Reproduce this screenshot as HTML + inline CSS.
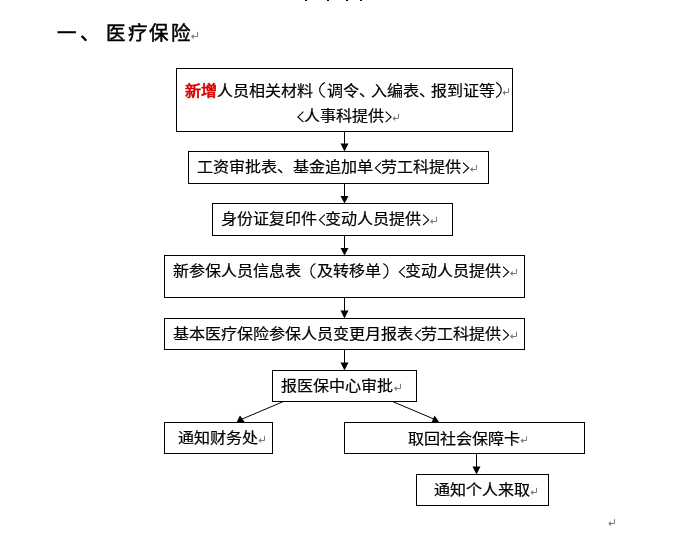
<!DOCTYPE html>
<html lang="zh-CN">
<head>
<meta charset="utf-8">
<style>
html,body{margin:0;padding:0;background:#fff;}
body{width:694px;height:549px;position:relative;overflow:hidden;font-family:"Liberation Sans",sans-serif;color:#000;}
.b{position:absolute;box-sizing:border-box;border:1px solid #000;}
.c{position:absolute;white-space:nowrap;font-size:15px;line-height:15px;transform:scaleX(1.07);transform-origin:7.5px 0;-webkit-text-stroke:0.2px #000;}
svg{position:absolute;left:0;top:0;}
.L{position:absolute;left:0;top:0;width:694px;height:549px;will-change:transform;}
</style>
</head>
<body>
<div class="b" style="left:176px;top:68px;width:337px;height:64px"></div>
<div class="b" style="left:188px;top:151px;width:301px;height:33px"></div>
<div class="b" style="left:212px;top:203px;width:241px;height:33px"></div>
<div class="b" style="left:164px;top:255px;width:361px;height:43px"></div>
<div class="b" style="left:164px;top:318px;width:361px;height:32px"></div>
<div class="b" style="left:272px;top:370px;width:145px;height:32px"></div>
<div class="b" style="left:164px;top:422px;width:109px;height:32px"></div>
<div class="b" style="left:344px;top:422px;width:241px;height:32px"></div>
<div class="b" style="left:416px;top:474px;width:133px;height:32px"></div>
<svg width="694" height="549" viewBox="0 0 694 549">
<g fill="#000">
<rect x="305" y="0" width="2" height="1"/><rect x="327" y="0" width="2" height="1"/><rect x="346" y="0" width="2" height="1"/><rect x="360" y="0" width="2" height="1"/>
</g>
<g stroke="#000" stroke-width="1" fill="none">
<line x1="344.5" y1="132" x2="344.5" y2="145"/>
<line x1="344.5" y1="184" x2="344.5" y2="197"/>
<line x1="344.5" y1="236" x2="344.5" y2="249"/>
<line x1="344.5" y1="298" x2="344.5" y2="312"/>
<line x1="344.5" y1="350" x2="344.5" y2="364"/>
<line x1="476.5" y1="454" x2="476.5" y2="468"/>
<line x1="283.5" y1="401.5" x2="241" y2="419.5"/>
<line x1="392.5" y1="401.5" x2="435" y2="419.5"/>
</g>
<g fill="#000">
<polygon points="340.5,143.5 348.5,143.5 344.5,151.5"/>
<polygon points="340.5,196 348.5,196 344.5,203.5"/>
<polygon points="340.5,248 348.5,248 344.5,255.5"/>
<polygon points="340.5,310.5 348.5,310.5 344.5,318.5"/>
<polygon points="340.5,362.5 348.5,362.5 344.5,370.5"/>
<polygon points="472.5,466.5 480.5,466.5 476.5,474.5"/>
<polygon points="236.5,422.5 240,415.5 245,422.5"/>
<polygon points="431.5,422.5 434.5,415.5 439.5,422.5"/>
</g>
<path d="M324.9 82.6C321.9 84.2 319.7 86.5 319.7 90C319.7 93.5 321.9 95.8 324.9 97.4 M496 82.6C499 84.2 501.2 86.5 501.2 90C501.2 93.5 499 95.8 496 97.4 M303.40 111.60L297.90 116.90L303.40 122.20 M385.60 111.60L391.10 116.90L385.60 122.20 M380.90 162.60L375.40 167.90L380.90 173.20 M463.10 162.60L468.60 167.90L463.10 173.20 M324.90 214.60L319.40 219.90L324.90 225.20 M423.10 214.60L428.60 219.90L423.10 225.20 M315.40 263.60C312.40 265.20 310.90 267.50 310.90 271.00C310.90 274.50 312.40 276.90 315.40 278.50 M383.30 263.60C386.30 265.20 387.90 267.50 387.90 271.00C387.90 274.50 386.30 276.90 383.30 278.50 M404.90 266.60L399.40 271.90L404.90 277.20 M503.10 266.60L508.60 271.90L503.10 277.20 M420.90 329.60L415.40 334.90L420.90 340.20 M503.10 329.60L508.60 334.90L503.10 340.20" fill="none" stroke="#000" stroke-width="1.15"/>
<path d="M508.50 88.30V92.50H504.00" fill="none" stroke="#7c7c7c" stroke-width="1"/><polygon points="502.50,92.50 505.10,90.40 505.10,95.40" fill="#7c7c7c"/><path d="M398.50 113.80V118.50H394.00" fill="none" stroke="#7c7c7c" stroke-width="1"/><polygon points="392.50,118.50 395.10,115.90 395.10,120.90" fill="#7c7c7c"/><path d="M476.50 164.80V169.50H471.50" fill="none" stroke="#7c7c7c" stroke-width="1"/><polygon points="470.00,169.50 472.60,166.90 472.60,171.90" fill="#7c7c7c"/><path d="M436.50 216.80V221.50H431.50" fill="none" stroke="#7c7c7c" stroke-width="1"/><polygon points="430.00,221.50 432.60,218.90 432.60,223.90" fill="#7c7c7c"/><path d="M516.50 268.80V273.50H511.50" fill="none" stroke="#7c7c7c" stroke-width="1"/><polygon points="510.00,273.50 512.60,270.90 512.60,275.90" fill="#7c7c7c"/><path d="M516.50 331.80V336.50H511.50" fill="none" stroke="#7c7c7c" stroke-width="1"/><polygon points="510.00,336.50 512.60,333.90 512.60,338.90" fill="#7c7c7c"/><path d="M400.50 383.80V388.50H395.50" fill="none" stroke="#7c7c7c" stroke-width="1"/><polygon points="394.00,388.50 396.60,385.90 396.60,390.90" fill="#7c7c7c"/><path d="M264.50 435.80V440.50H260.00" fill="none" stroke="#7c7c7c" stroke-width="1"/><polygon points="258.50,440.50 261.10,437.90 261.10,442.90" fill="#7c7c7c"/><path d="M526.50 436.30V440.50H522.00" fill="none" stroke="#7c7c7c" stroke-width="1"/><polygon points="520.50,440.50 523.10,438.40 523.10,443.40" fill="#7c7c7c"/><path d="M536.50 487.80V492.50H532.00" fill="none" stroke="#7c7c7c" stroke-width="1"/><polygon points="530.50,492.50 533.10,489.90 533.10,494.90" fill="#7c7c7c"/><path d="M197.50 31.80V36.50H192.50" fill="none" stroke="#7c7c7c" stroke-width="1"/><polygon points="191.00,36.50 193.60,33.90 193.60,38.90" fill="#7c7c7c"/><path d="M614.50 519.10V523.50H609.80" fill="none" stroke="#7c7c7c" stroke-width="1"/><polygon points="608.30,523.50 610.90,521.20 610.90,526.20" fill="#7c7c7c"/>
</svg>
<div class="L">
<span class="c" style="left:186.0px;top:82.5px;color:#dd0000;-webkit-text-stroke:0.7px #dd0000;">新</span>
<span class="c" style="left:202.0px;top:82.5px;color:#dd0000;-webkit-text-stroke:0.7px #dd0000;">增</span>
<span class="c" style="left:218.0px;top:82.5px;">人</span>
<span class="c" style="left:234.0px;top:82.5px;">员</span>
<span class="c" style="left:250.0px;top:82.5px;">相</span>
<span class="c" style="left:266.0px;top:82.5px;">关</span>
<span class="c" style="left:282.0px;top:82.5px;">材</span>
<span class="c" style="left:298.0px;top:82.5px;">料</span>
<span class="c" style="left:328.0px;top:82.5px;">调</span>
<span class="c" style="left:344.0px;top:82.5px;">令</span>
<span class="c" style="left:360.0px;top:82.5px;">、</span>
<span class="c" style="left:372.0px;top:82.5px;">入</span>
<span class="c" style="left:388.0px;top:82.5px;">编</span>
<span class="c" style="left:404.0px;top:82.5px;">表</span>
<span class="c" style="left:420.0px;top:82.5px;">、</span>
<span class="c" style="left:432.0px;top:82.5px;">报</span>
<span class="c" style="left:448.0px;top:82.5px;">到</span>
<span class="c" style="left:464.0px;top:82.5px;">证</span>
<span class="c" style="left:480.0px;top:82.5px;">等</span>
<span class="c" style="left:304.5px;top:108px;">人</span>
<span class="c" style="left:320.5px;top:108px;">事</span>
<span class="c" style="left:336.5px;top:108px;">科</span>
<span class="c" style="left:352.5px;top:108px;">提</span>
<span class="c" style="left:368.5px;top:108px;">供</span>
<span class="c" style="left:198.0px;top:159px;">工</span>
<span class="c" style="left:214.0px;top:159px;">资</span>
<span class="c" style="left:230.0px;top:159px;">审</span>
<span class="c" style="left:246.0px;top:159px;">批</span>
<span class="c" style="left:262.0px;top:159px;">表</span>
<span class="c" style="left:278.0px;top:159px;">、</span>
<span class="c" style="left:294.0px;top:159px;">基</span>
<span class="c" style="left:310.0px;top:159px;">金</span>
<span class="c" style="left:326.0px;top:159px;">追</span>
<span class="c" style="left:342.0px;top:159px;">加</span>
<span class="c" style="left:358.0px;top:159px;">单</span>
<span class="c" style="left:382.0px;top:159px;">劳</span>
<span class="c" style="left:398.0px;top:159px;">工</span>
<span class="c" style="left:414.0px;top:159px;">科</span>
<span class="c" style="left:430.0px;top:159px;">提</span>
<span class="c" style="left:446.0px;top:159px;">供</span>
<span class="c" style="left:222.0px;top:211px;">身</span>
<span class="c" style="left:238.0px;top:211px;">份</span>
<span class="c" style="left:254.0px;top:211px;">证</span>
<span class="c" style="left:270.0px;top:211px;">复</span>
<span class="c" style="left:286.0px;top:211px;">印</span>
<span class="c" style="left:302.0px;top:211px;">件</span>
<span class="c" style="left:326.0px;top:211px;">变</span>
<span class="c" style="left:342.0px;top:211px;">动</span>
<span class="c" style="left:358.0px;top:211px;">人</span>
<span class="c" style="left:374.0px;top:211px;">员</span>
<span class="c" style="left:390.0px;top:211px;">提</span>
<span class="c" style="left:406.0px;top:211px;">供</span>
<span class="c" style="left:174.0px;top:263px;">新</span>
<span class="c" style="left:190.0px;top:263px;">参</span>
<span class="c" style="left:206.0px;top:263px;">保</span>
<span class="c" style="left:222.0px;top:263px;">人</span>
<span class="c" style="left:238.0px;top:263px;">员</span>
<span class="c" style="left:254.0px;top:263px;">信</span>
<span class="c" style="left:270.0px;top:263px;">息</span>
<span class="c" style="left:286.0px;top:263px;">表</span>
<span class="c" style="left:318.0px;top:263px;">及</span>
<span class="c" style="left:334.0px;top:263px;">转</span>
<span class="c" style="left:350.0px;top:263px;">移</span>
<span class="c" style="left:366.0px;top:263px;">单</span>
<span class="c" style="left:406.0px;top:263px;">变</span>
<span class="c" style="left:422.0px;top:263px;">动</span>
<span class="c" style="left:438.0px;top:263px;">人</span>
<span class="c" style="left:454.0px;top:263px;">员</span>
<span class="c" style="left:470.0px;top:263px;">提</span>
<span class="c" style="left:486.0px;top:263px;">供</span>
<span class="c" style="left:174.0px;top:326px;">基</span>
<span class="c" style="left:190.0px;top:326px;">本</span>
<span class="c" style="left:206.0px;top:326px;">医</span>
<span class="c" style="left:222.0px;top:326px;">疗</span>
<span class="c" style="left:238.0px;top:326px;">保</span>
<span class="c" style="left:254.0px;top:326px;">险</span>
<span class="c" style="left:270.0px;top:326px;">参</span>
<span class="c" style="left:286.0px;top:326px;">保</span>
<span class="c" style="left:302.0px;top:326px;">人</span>
<span class="c" style="left:318.0px;top:326px;">员</span>
<span class="c" style="left:334.0px;top:326px;">变</span>
<span class="c" style="left:350.0px;top:326px;">更</span>
<span class="c" style="left:366.0px;top:326px;">月</span>
<span class="c" style="left:382.0px;top:326px;">报</span>
<span class="c" style="left:398.0px;top:326px;">表</span>
<span class="c" style="left:422.0px;top:326px;">劳</span>
<span class="c" style="left:438.0px;top:326px;">工</span>
<span class="c" style="left:454.0px;top:326px;">科</span>
<span class="c" style="left:470.0px;top:326px;">提</span>
<span class="c" style="left:486.0px;top:326px;">供</span>
<span class="c" style="left:282.0px;top:378px;">报</span>
<span class="c" style="left:298.0px;top:378px;">医</span>
<span class="c" style="left:314.0px;top:378px;">保</span>
<span class="c" style="left:330.0px;top:378px;">中</span>
<span class="c" style="left:346.0px;top:378px;">心</span>
<span class="c" style="left:362.0px;top:378px;">审</span>
<span class="c" style="left:378.0px;top:378px;">批</span>
<span class="c" style="left:178.5px;top:430px;">通</span>
<span class="c" style="left:194.5px;top:430px;">知</span>
<span class="c" style="left:210.5px;top:430px;">财</span>
<span class="c" style="left:226.5px;top:430px;">务</span>
<span class="c" style="left:242.5px;top:430px;">处</span>
<span class="c" style="left:408.5px;top:430.5px;">取</span>
<span class="c" style="left:424.5px;top:430.5px;">回</span>
<span class="c" style="left:440.5px;top:430.5px;">社</span>
<span class="c" style="left:456.5px;top:430.5px;">会</span>
<span class="c" style="left:472.5px;top:430.5px;">保</span>
<span class="c" style="left:488.5px;top:430.5px;">障</span>
<span class="c" style="left:504.5px;top:430.5px;">卡</span>
<span class="c" style="left:434.5px;top:482px;">通</span>
<span class="c" style="left:450.5px;top:482px;">知</span>
<span class="c" style="left:466.5px;top:482px;">个</span>
<span class="c" style="left:482.5px;top:482px;">人</span>
<span class="c" style="left:498.5px;top:482px;">来</span>
<span class="c" style="left:514.5px;top:482px;">取</span>
<span class="c" style="left:57px;top:23px;font-size:19.5px;line-height:20px;transform:none;-webkit-text-stroke:0.5px #000;">一</span>
<span class="c" style="left:79.5px;top:23px;font-size:19.5px;line-height:20px;transform:none;-webkit-text-stroke:0.5px #000;">、</span>
<span class="c" style="left:106.0px;top:23px;font-size:19.5px;line-height:20px;transform:none;-webkit-text-stroke:0.5px #000;">医</span>
<span class="c" style="left:127.63px;top:23px;font-size:19.5px;line-height:20px;transform:none;-webkit-text-stroke:0.5px #000;">疗</span>
<span class="c" style="left:149.26px;top:23px;font-size:19.5px;line-height:20px;transform:none;-webkit-text-stroke:0.5px #000;">保</span>
<span class="c" style="left:170.89px;top:23px;font-size:19.5px;line-height:20px;transform:none;-webkit-text-stroke:0.5px #000;">险</span>
</div>
</body>
</html>
